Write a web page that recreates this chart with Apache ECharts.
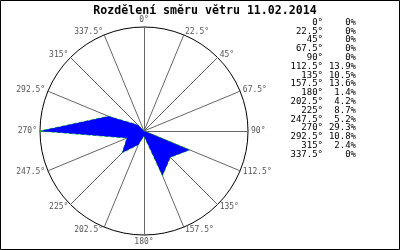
<!DOCTYPE html>
<html><head><meta charset="utf-8">
<script src="https://cdn.jsdelivr.net/npm/echarts@6/dist/echarts.min.js"></script>
<style>html,body{margin:0;padding:0;background:#fff}#c{width:400px;height:250px}</style>
</head><body><div id="c"></div>
<script>
const titleText = "Rozdělení směru větru 11.02.2014";
const directions = ["0°","22.5°","45°","67.5°","90°","112.5°","135°","157.5°","180°","202.5°","225°","247.5°","270°","292.5°","315°","337.5°"];
const percents = [0,0,0,0,0,13.9,10.5,13.6,1.4,4.2,8.7,5.2,29.3,10.8,2.4,0];
const maxValue = 29.3;

// Radar goes counter-clockwise; reverse order to make it visually clockwise
const order = directions.map((d,i)=> (16 - i) % 16);
const indicators = order.map(i => ({name: directions[i], max: maxValue, min: 0}));
const values = order.map(i => percents[i]);

const listGraphics = [];
directions.forEach((d,i)=>{
  const y = 22.5 + i*8.8;
  listGraphics.push({type:'text', x:323, y:y, style:{text:d, align:'right', verticalAlign:'middle', font:'9px "DejaVu Sans Mono"', fill:'#000'}});
  const p = percents[i] === 0 ? '0%' : percents[i].toFixed(1) + '%';
  listGraphics.push({type:'text', x:356, y:y, style:{text:p, align:'right', verticalAlign:'middle', font:'9px "DejaVu Sans Mono"', fill:'#000'}});
});

const chart = echarts.init(document.getElementById('c'), null, {renderer:'canvas'});
chart.setOption({
  animation:false,
  backgroundColor:'#fff',
  title:{text:titleText, left:200, textAlign:'center', top:0, textStyle:{fontFamily:'DejaVu Sans Mono', fontWeight:'bold', fontSize:11.6, color:'#000'}},
  radar:{
    center:[144,131], radius:104, shape:'circle', splitNumber:1,
    indicator: indicators,
    axisName:{color:'#555', fontFamily:'DejaVu Sans Mono', fontSize:8},
    nameGap:3,
    splitLine:{lineStyle:{color:'#000', width:1}},
    splitArea:{show:false},
    axisLine:{lineStyle:{color:'#666', width:1}},
    axisTick:{show:false}, axisLabel:{show:false}
  },
  series:[{
    type:'radar', symbol:'none',
    lineStyle:{color:'#00cc00', width:1, type:'dashed'},
    areaStyle:{color:'#0000ff', opacity:1},
    data:[{value: values}]
  }],
  graphic: listGraphics.concat([{type:'rect', shape:{x:0.5,y:0.5,width:399,height:249}, style:{fill:'none', stroke:'#000', lineWidth:1}, z:100}])
});
</script></body></html>
